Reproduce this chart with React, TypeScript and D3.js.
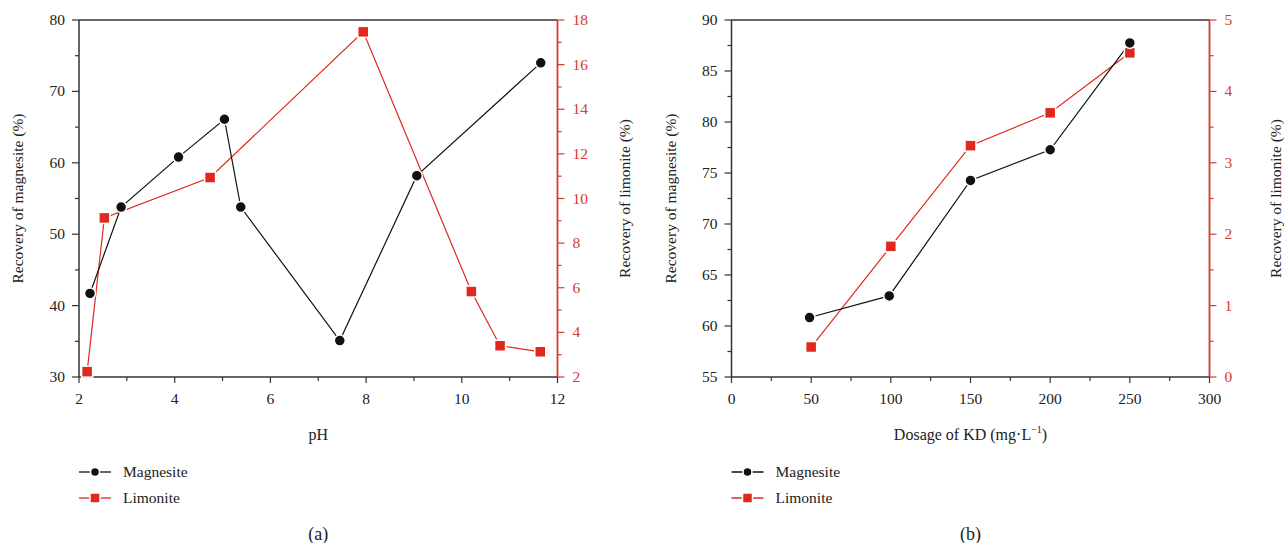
import React from "react";
import * as d3 from "d3";

// Panel (a): pH
const phMagX = [2.23, 2.88, 4.08, 5.04, 5.38, 7.45, 9.06, 11.65];
const phMagY = [41.7, 53.8, 60.8, 66.1, 53.8, 35.1, 58.2, 74.0];
const phLimX = [2.17, 2.53, 4.74, 7.94, 10.2, 10.8, 11.64];
const phLimY = [2.24, 9.13, 10.94, 17.47, 5.83, 3.4, 3.13];
const phXTicks = [2, 4, 6, 8, 10, 12];
const phLeftTicks = [30, 40, 50, 60, 70, 80];
const phRightTicks = [2, 4, 6, 8, 10, 12, 14, 16, 18];

// Panel (b): KD dosage
const kdMagX = [49, 99, 150, 200, 250];
const kdMagY = [60.83, 62.95, 74.27, 77.28, 87.75];
const kdLimX = [50, 100, 150, 200, 250];
const kdLimY = [0.42, 1.83, 3.24, 3.7, 4.54];
const kdXTicks = [0, 50, 100, 150, 200, 250, 300];
const kdLeftTicks = [55, 60, 65, 70, 75, 80, 85, 90];
const kdRightTicks = [0, 1, 2, 3, 4, 5];

const seriesNames = ["Magnesite", "Limonite"];

const RED = "#e0281e";
const AXRED = "#d63a31";
const AX = "#333";
const FS = { fontFamily: "'Liberation Serif'" };

type PanelProps = {
  x0: number; x1: number; y0: number; y1: number;
  xDomain: [number, number]; leftDomain: [number, number]; rightDomain: [number, number];
  xTicks: number[]; leftTicks: number[]; rightTicks: number[];
  magX: number[]; magY: number[]; limX: number[]; limY: number[];
  xLabel: React.ReactNode; tag: string;
  leftLabelX: number; rightLabelX: number;
};

function midpoints(t: number[]) {
  const r: number[] = [];
  for (let i = 0; i < t.length - 1; i++) r.push((t[i] + t[i + 1]) / 2);
  return r;
}

function Panel(p: PanelProps) {
  const xs = d3.scaleLinear().domain(p.xDomain).range([p.x0, p.x1]);
  const yl = d3.scaleLinear().domain(p.leftDomain).range([p.y1, p.y0]);
  const yr = d3.scaleLinear().domain(p.rightDomain).range([p.y1, p.y0]);
  const magPts = p.magX.map((x, i) => [xs(x), yl(p.magY[i])] as [number, number]);
  const limPts = p.limX.map((x, i) => [xs(x), yr(p.limY[i])] as [number, number]);
  const line = d3.line();
  const cx = (p.x0 + p.x1) / 2;
  const legX = p.x0;
  return (
    <g>
      {/* frame */}
      <line x1={p.x0} x2={p.x1} y1={p.y0} y2={p.y0} stroke={AX} strokeWidth={1.5} />
      <line x1={p.x0} x2={p.x1} y1={p.y1} y2={p.y1} stroke={AX} strokeWidth={1.5} />
      <line x1={p.x0} x2={p.x0} y1={p.y0} y2={p.y1} stroke={AX} strokeWidth={1.5} />
      <line x1={p.x1} x2={p.x1} y1={p.y0} y2={p.y1 + 1} stroke={AXRED} strokeWidth={1.8} />
      {/* x ticks */}
      {p.xTicks.map((t) => (
        <g key={"x" + t}>
          <line x1={xs(t)} x2={xs(t)} y1={p.y1} y2={p.y1 + 6} stroke={AX} strokeWidth={1.2} />
          <text style={FS} x={xs(t)} y={p.y1 + 27} textAnchor="middle" fontSize={15.5} fill="#222">{t}</text>
        </g>
      ))}
      {midpoints(p.xTicks).map((t) => (
        <line key={"xm" + t} x1={xs(t)} x2={xs(t)} y1={p.y1} y2={p.y1 + 4} stroke={AX} strokeWidth={1.2} />
      ))}
      {/* left ticks */}
      {p.leftTicks.map((t) => (
        <g key={"l" + t}>
          <line x1={p.x0 - 7} x2={p.x0} y1={yl(t)} y2={yl(t)} stroke={AX} strokeWidth={1.2} />
          <text style={FS} x={p.x0 - 14} y={yl(t) + 5} textAnchor="end" fontSize={15.5} fill="#222">{t}</text>
        </g>
      ))}
      {midpoints(p.leftTicks).map((t) => (
        <line key={"lm" + t} x1={p.x0 - 4} x2={p.x0} y1={yl(t)} y2={yl(t)} stroke={AX} strokeWidth={1.2} />
      ))}
      {/* right ticks */}
      {p.rightTicks.map((t) => (
        <g key={"r" + t}>
          <line x1={p.x1} x2={p.x1 + 7} y1={yr(t)} y2={yr(t)} stroke={AXRED} strokeWidth={1.2} />
          <text style={FS} x={p.x1 + 15} y={yr(t) + 5} textAnchor="start" fontSize={15.5} fill={AXRED}>{t}</text>
        </g>
      ))}
      {midpoints(p.rightTicks).map((t) => (
        <line key={"rm" + t} x1={p.x1} x2={p.x1 + 4} y1={yr(t)} y2={yr(t)} stroke={AXRED} strokeWidth={1.2} />
      ))}
      {/* axis labels */}
      <text style={FS} transform={`translate(${p.leftLabelX},${(p.y0 + p.y1) / 2}) rotate(-90)`} textAnchor="middle" fontSize={15.5} fill="#222">Recovery of magnesite (%)</text>
      <text style={FS} transform={`translate(${p.rightLabelX},${(p.y0 + p.y1) / 2}) rotate(-90)`} textAnchor="middle" fontSize={15.5} fill="#222">Recovery of limonite (%)</text>
      <text style={FS} x={cx} y={p.y1 + 63} textAnchor="middle" fontSize={16} fill="#222">{p.xLabel}</text>
      {/* series */}
      <path d={line(limPts) || ""} fill="none" stroke={RED} strokeWidth={1.2} />
      <path d={line(magPts) || ""} fill="none" stroke="#111" strokeWidth={1.2} />
      {limPts.map((pt, i) => (
        <rect key={"lp" + i} x={pt[0] - 5.5} y={pt[1] - 5.5} width={11} height={11} fill={RED} stroke="#fff" strokeWidth={1.5} />
      ))}
      {magPts.map((pt, i) => (
        <circle key={"mp" + i} cx={pt[0]} cy={pt[1]} r={5.5} fill="#111" stroke="#fff" strokeWidth={1.5} />
      ))}
      {/* legend */}
      <g>
        <line x1={legX} x2={legX + 32} y1={p.y1 + 95} y2={p.y1 + 95} stroke="#111" strokeWidth={1.3} />
        <circle cx={legX + 16} cy={p.y1 + 95} r={4.5} fill="#111" stroke="#fff" strokeWidth={1.5} />
        <text style={FS} x={legX + 44} y={p.y1 + 100} fontSize={15.5} fill="#222">{seriesNames[0]}</text>
        <line x1={legX} x2={legX + 32} y1={p.y1 + 121} y2={p.y1 + 121} stroke={RED} strokeWidth={1.3} />
        <rect x={legX + 11} y={p.y1 + 116} width={10} height={10} fill={RED} stroke="#fff" strokeWidth={1.5} />
        <text style={FS} x={legX + 44} y={p.y1 + 126} fontSize={15.5} fill="#222">{seriesNames[1]}</text>
      </g>
      <text style={FS} x={cx} y={p.y1 + 163} textAnchor="middle" fontSize={18} fill="#222">{p.tag}</text>
    </g>
  );
}

export default function App() {
  return (
    <svg width={1284} height={543} style={{ position: "absolute", left: 0, top: 0, background: "#fff" }}>
      <rect width={1284} height={543} fill="#fff" />
      <Panel
        x0={79} x1={557.5} y0={20} y1={377}
        xDomain={[2, 12]} leftDomain={[30, 80]} rightDomain={[2, 18]}
        xTicks={phXTicks} leftTicks={phLeftTicks} rightTicks={phRightTicks}
        magX={phMagX} magY={phMagY} limX={phLimX} limY={phLimY}
        xLabel="pH" tag="(a)" leftLabelX={23} rightLabelX={630}
      />
      <Panel
        x0={731.5} x1={1209.5} y0={20} y1={377}
        xDomain={[0, 300]} leftDomain={[55, 90]} rightDomain={[0, 5]}
        xTicks={kdXTicks} leftTicks={kdLeftTicks} rightTicks={kdRightTicks}
        magX={kdMagX} magY={kdMagY} limX={kdLimX} limY={kdLimY}
        xLabel={<>Dosage of KD (mg·L<tspan dy={-7} fontSize={10}>−1</tspan><tspan dy={7}>)</tspan></>}
        tag="(b)" leftLabelX={676} rightLabelX={1281}
      />
    </svg>
  );
}
